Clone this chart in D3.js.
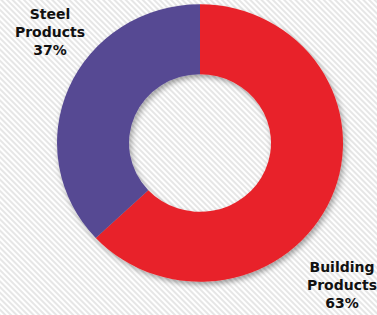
<!DOCTYPE html>
<html>
<head>
<meta charset="utf-8">
<script src="https://cdn.jsdelivr.net/npm/d3@7"></script>
<style>
  html, body { margin: 0; padding: 0; background: #fff; overflow: hidden; }
</style>
</head>
<body>
<div id="chart"></div>
<script>
const categories = ["Building Products", "Steel Products"];
const shares = [63, 37];
const colors = ["#E82429", "#574A93"];
const labelLines = [["Building", "Products", "63%"], ["Steel", "Products", "37%"]];

const width = 377, height = 315;
const cx = 200, cy = 143;
const outerR = 143, innerR = 71;

const svg = d3.select("#chart")
  .append("svg")
  .attr("width", width)
  .attr("height", height);

const defs = svg.append("defs");

const pattern = defs.append("pattern")
  .attr("id", "stripes")
  .attr("patternUnits", "userSpaceOnUse")
  .attr("width", 4)
  .attr("height", 4)
  .attr("patternTransform", "rotate(-45)");
pattern.append("rect").attr("width", 4).attr("height", 4).attr("fill", "#fff");
pattern.append("line")
  .attr("x1", 1).attr("y1", 0).attr("x2", 1).attr("y2", 4)
  .attr("stroke", "#dedede")
  .attr("stroke-width", 1.5);

const shadow = defs.append("filter")
  .attr("id", "shadow")
  .attr("x", "-20%").attr("y", "-20%")
  .attr("width", "140%").attr("height", "140%");
shadow.append("feDropShadow")
  .attr("dx", 2).attr("dy", 3)
  .attr("stdDeviation", 3)
  .attr("flood-color", "#000")
  .attr("flood-opacity", 0.35);

svg.append("rect")
  .attr("width", width)
  .attr("height", height)
  .attr("fill", "url(#stripes)");

const data = categories.map((c, i) => ({ name: c, value: shares[i], color: colors[i], lines: labelLines[i] }));

const pie = d3.pie()
  .value(d => d.value)
  .sort(null);

const arc = d3.arc()
  .innerRadius(innerR)
  .outerRadius(outerR);

// ring is a touch flatter than it is wide in the original
const g = svg.append("g")
  .attr("transform", `translate(${cx},${cy}) scale(1,0.97)`)
  .attr("filter", "url(#shadow)");

g.selectAll("path.slice")
  .data(pie(data))
  .join("path")
  .attr("class", "slice")
  .attr("d", arc)
  .attr("fill", d => d.data.color);

// label anchors (first baseline), outside the ring
const labelPos = [[342, 272], [50, 19]];

const labels = svg.append("g")
  .selectAll("text")
  .data(data)
  .join("text")
  .attr("text-anchor", "middle")
  .style("font-family", "'DejaVu Sans', sans-serif")
  .style("font-weight", "bold")
  .style("font-size", "14px")
  .attr("fill", "#111");

labels.each(function (d, i) {
  d3.select(this).selectAll("tspan")
    .data(d.lines)
    .join("tspan")
    .attr("x", labelPos[i][0])
    .attr("y", (t, k) => labelPos[i][1] + k * 18)
    .text(t => t);
});
</script>
</body>
</html>
